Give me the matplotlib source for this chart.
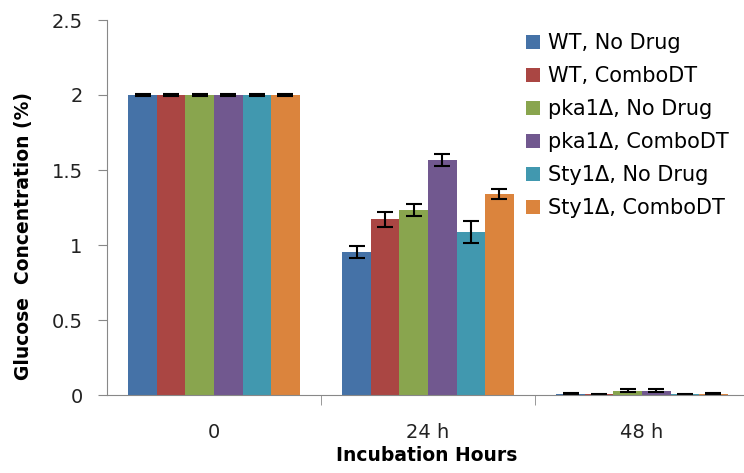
import numpy as np
import matplotlib.pyplot as plt

plt.rcParams['font.family'] = ['DejaVu Sans']

# data
hours = ['0', '24 h', '48 h']
labels = ['WT, No Drug', 'WT, ComboDT', 'pka1Δ, No Drug',
          'pka1Δ, ComboDT', 'Sty1Δ, No Drug', 'Sty1Δ, ComboDT']
wt_none = [2.0, 0.955, 0.01]
wt_combo = [2.0, 1.17, 0.005]
pka_none = [2.0, 1.235, 0.03]
pka_combo = [2.0, 1.567, 0.03]
sty_none = [2.0, 1.085, 0.005]
sty_combo = [2.0, 1.34, 0.01]
wt_none_err = [0.005, 0.04, 0.005]
wt_combo_err = [0.005, 0.05, 0.005]
pka_none_err = [0.005, 0.04, 0.01]
pka_combo_err = [0.005, 0.04, 0.01]
sty_none_err = [0.005, 0.075, 0.005]
sty_combo_err = [0.005, 0.035, 0.005]

series = [wt_none, wt_combo, pka_none, pka_combo, sty_none, sty_combo]
errs = [wt_none_err, wt_combo_err, pka_none_err, pka_combo_err, sty_none_err, sty_combo_err]
colors = ['#4572A7', '#AA4643', '#89A54E', '#71588F', '#4198AF', '#DB843D']

fig = plt.figure(figsize=(7.44, 4.73), dpi=100)
ax = fig.add_axes([107/744, 1-395/473, 642/744, 375/473])

x = np.arange(len(hours))
w = 0.8 / 6
for i, (vals, e, c, lab) in enumerate(zip(series, errs, colors, labels)):
    ax.bar(x - 0.4 + w*(i+0.5), vals, w, color=c, label=lab,
           yerr=e, capsize=6, error_kw=dict(ecolor='black', elinewidth=1.5, capthick=1.5))

ax.set_xlim(-0.5, 2.5)
ax.set_ylim(0, 2.5)
ax.set_yticks([0, 0.5, 1, 1.5, 2, 2.5])
ax.set_yticklabels(['0', '0.5', '1', '1.5', '2', '2.5'])
ax.set_xticks(x)
ax.set_xticklabels(hours)
ax.set_xticks([0.5, 1.5], minor=True)
ax.tick_params(axis='x', which='major', length=0, labelsize=14, pad=20, labelcolor='#222222')
ax.tick_params(axis='x', which='minor', length=7, color='#888888')
ax.tick_params(axis='y', length=6.5, color='#888888', labelsize=14, labelcolor='#222222', pad=11)
for s in ['top', 'right']:
    ax.spines[s].set_visible(False)
for s in ['left', 'bottom']:
    ax.spines[s].set_color('#888888')

ax.set_ylabel('Glucose  Concentration (%)', fontsize=13.5, fontweight='bold')
ax.yaxis.set_label_coords(-74/642, (395-236)/375)
ax.set_xlabel('Incubation Hours', fontsize=13.5, fontweight='bold')
ax.xaxis.set_label_coords((427-107)/642, -(446-395)/375)

fig.legend(loc='upper left', bbox_to_anchor=(518/744, 1-25/473), frameon=False,
           fontsize=15, handlelength=0.65, handleheight=0.65, handletextpad=0.4,
           labelspacing=0.62, borderaxespad=0)

fig.savefig('out.png', dpi=100)
